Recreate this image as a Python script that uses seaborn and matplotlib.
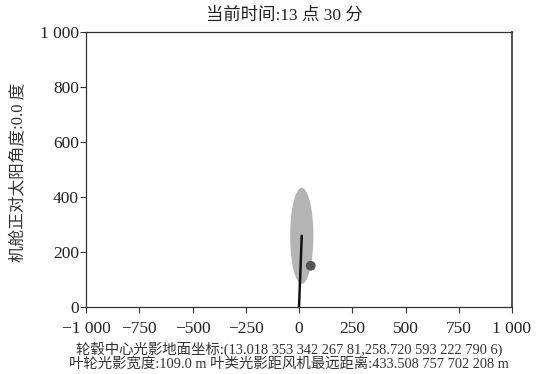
import matplotlib
matplotlib.use("Agg")
import matplotlib.pyplot as plt
from matplotlib.patches import Ellipse
import seaborn as sns
import pandas as pd

# --- data ---
hub_x = 13.01835334226781
hub_y = 258.7205932227906
shadow_width = 109.0
shadow_far = 433.508757702208
tower_x = [0.0, hub_x]
tower_y = [0.0, hub_y]
point_x = [55.0]
point_y = [150.0]
x_ticks = [-1000, -750, -500, -250, 0, 250, 500, 750, 1000]
x_ticklabels = ["\u22121 000", "\u2212750", "\u2212500", "\u2212250", "0", "250", "500", "750", "1 000"]
y_ticks = [0, 200, 400, 600, 800, 1000]
y_ticklabels = ["0", "200", "400", "600", "800", "1 000"]
title = "当前时间:13 点 30 分"
ylabel = "机舱正对太阳角度:0.0 度"
xlabel_lines = ["轮毂中心光影地面坐标:(13.018 353 342 267 81,258.720 593 222 790 6)",
                "叶轮光影宽度:109.0 m 叶类光影距风机最远距离:433.508 757 702 208 m"]

sns.set_theme(style="white")
fam = ["Liberation Serif", "Noto Sans CJK SC"]
plt.rcParams["font.family"] = fam
plt.rcParams["axes.unicode_minus"] = False

fig = plt.figure(figsize=(5.42, 3.74), dpi=100)
ax = fig.add_axes([86/542, 1 - 307/374, (512-86)/542, (307-32)/374])

ell = Ellipse((hub_x, hub_y), width=shadow_width, height=2 * (shadow_far - hub_y),
              facecolor="#b4b4b4", edgecolor="none", zorder=1)
ax.add_patch(ell)

line_df = pd.DataFrame({"x": tower_x, "y": tower_y})
sns.lineplot(data=line_df, x="x", y="y", ax=ax, color="#111111", linewidth=1.8,
             sort=False, zorder=3)
pt_df = pd.DataFrame({"x": point_x, "y": point_y})
sns.scatterplot(data=pt_df, x="x", y="y", ax=ax, color="#555555", s=50,
                edgecolor="none", zorder=4)

ax.set_xlim(-1000, 1000)
ax.set_ylim(0, 1000)
ax.set_xticks(x_ticks)
ax.set_xticklabels(x_ticklabels, fontsize=12.5, color="#222222")
ax.set_yticks(y_ticks)
ax.set_yticklabels(y_ticklabels, fontsize=12.5, color="#222222")
ax.tick_params(axis="both", direction="out", length=4, width=0.8, color="#333333",
               bottom=True, left=True, top=False, right=False)
ax.tick_params(axis="x", pad=6)
ax.tick_params(axis="y", pad=1)

for side, sp in ax.spines.items():
    sp.set_color("#333333")
    sp.set_linewidth(0.9)
ax.spines["right"].set_color("#555555")
ax.spines["right"].set_linewidth(1.4)
ax.set_xlabel("")
ax.set_ylabel("")

fig.text(284/542, 1 - 16/374, title, fontsize=12.5, color="#222222",
         ha="center", va="center")
fig.text(18/542, 1 - 172/374, ylabel, fontsize=12, color="#333333",
         ha="center", va="center", rotation=90)
fig.text(289/542, 1 - 349/374, xlabel_lines[0], fontsize=10.4, color="#333333",
         ha="center", va="center")
fig.text(289/542, 1 - 364/374, xlabel_lines[1], fontsize=10.4, color="#333333",
         ha="center", va="center")

fig.savefig("out.png", dpi=100)
